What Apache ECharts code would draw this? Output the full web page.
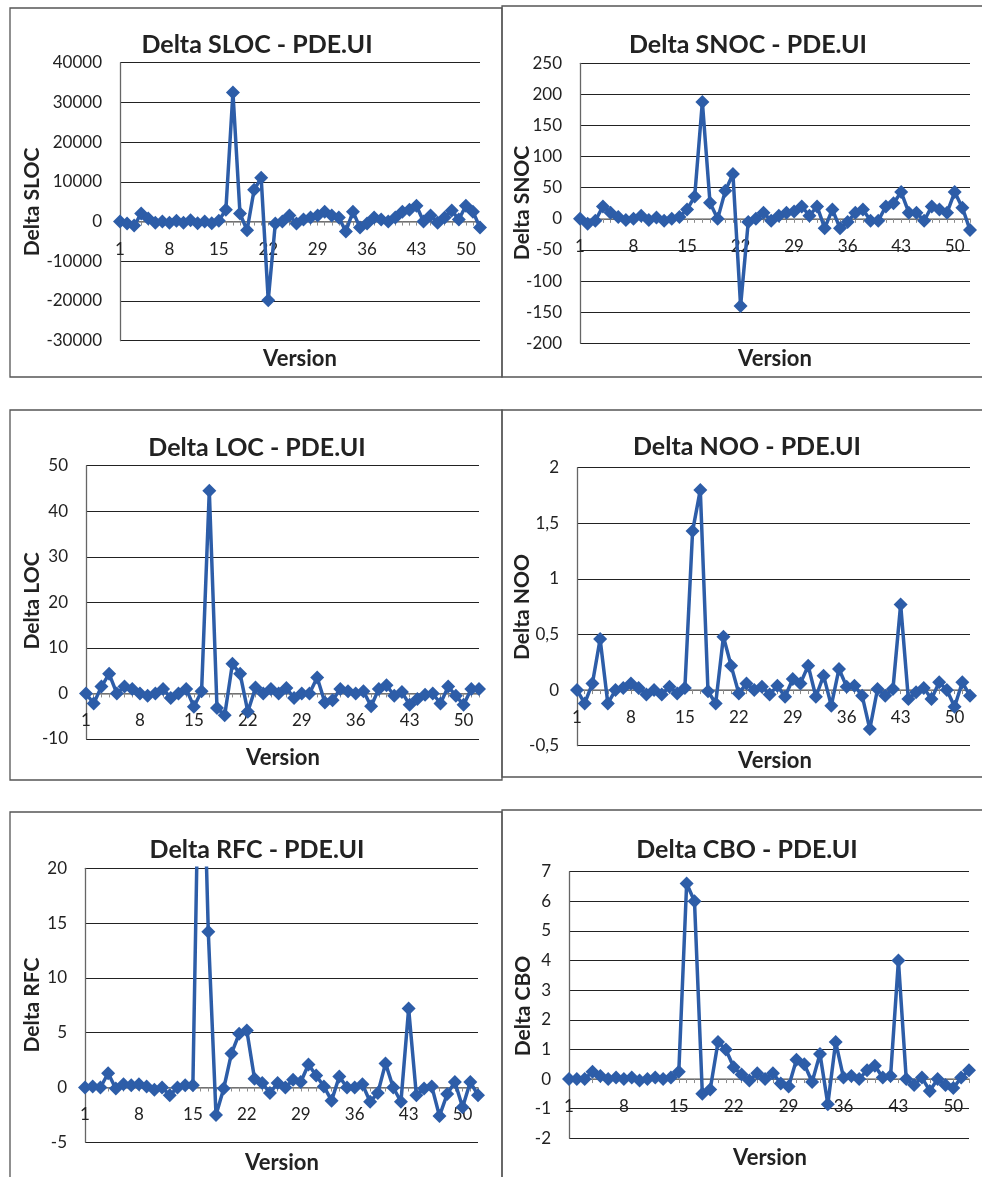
<!DOCTYPE html>
<html>
<head>
<meta charset="utf-8">
<title>Delta metrics - PDE.UI</title>
<script src="https://cdn.jsdelivr.net/npm/echarts@6/dist/echarts.min.js"></script>
<style>
html, body { margin: 0; padding: 0; background: #fff; }
#main { width: 982px; height: 1177px; }
</style>
</head>
<body>
<div id="main"></div>
<script>
// versions on the x axis
const versions = ['1','2','3','4','5','6','7','8','9','10','11','12','13','14','15','16','17','18','19','20',
  '21','22','23','24','25','26','27','28','29','30','31','32','33','34','35','36','37','38','39','40',
  '41','42','43','44','45','46','47','48','49','50','51','52']

// values
const deltaSLOC = [0, -500, -1000, 2000, 800, -300, 0, -300, 200, -300,
  300, -400, 0, -400, 200, 3000, 32500, 2000, -2200, 8000,
  11000, -19800, -500, 0, 1500, -500, 500, 1000, 1500, 2500,
  1500, 1000, -2500, 2500, -1500, -500, 1000, 500, 0, 1000,
  2500, 3000, 4000, 0, 1500, -300, 1000, 2800, 500, 4000,
  2500, -1500]
const deltaSNOC = [0, -8, -3, 20, 10, 3, -2, 0, 5, -2,
  2, -3, 0, 3, 15, 36, 188, 26, 0, 45,
  72, -140, -5, 0, 10, -3, 5, 10, 12, 20,
  5, 20, -15, 15, -15, -5, 10, 15, -3, -3,
  20, 25, 43, 10, 10, -3, 20, 15, 10, 43,
  18, -18]
const deltaLOC = [0, -2.2, 1.5, 4.3, 0, 1.5, 1, 0, -0.5, 0,
  1, -1, 0, 1, -2.9, 0.5, 44.5, -3.2, -4.8, 6.5,
  4.3, -4, 1.3, 0, 1, 0, 1.2, -1, 0, 0,
  3.5, -2, -1.5, 1, 0.5, 0, 0.5, -2.8, 1, 1.8,
  -0.5, 0.3, -2.5, -1.2, -0.3, 0, -2.2, 1.5, -0.5, -2.5,
  1, 1]
const deltaNOO = [0, -0.12, 0.06, 0.46, -0.12, 0, 0.02, 0.06, 0.02, -0.04,
  0, -0.04, 0.03, -0.03, 0.02, 1.43, 1.8, -0.01, -0.12, 0.48,
  0.22, -0.03, 0.06, 0, 0.03, -0.04, 0.04, -0.06, 0.1, 0.06,
  0.22, -0.06, 0.13, -0.14, 0.19, 0.03, 0.04, -0.05, -0.35, 0.01,
  -0.05, 0.01, 0.77, -0.08, -0.02, 0.02, -0.08, 0.07, 0, -0.15,
  0.07, -0.05]
const deltaRFC = [0, 0.1, 0, 1.3, -0.1, 0.3, 0.2, 0.3, 0.1, -0.2,
  0, -0.7, 0, 0.2, 0.2, 40, 14.2, -2.5, -0.1, 3.1,
  4.9, 5.2, 0.8, 0.4, -0.5, 0.4, 0, 0.7, 0.5, 2.1,
  1.1, 0.1, -1.2, 1.0, 0, 0, 0.3, -1.3, -0.5, 2.2,
  0, -1.3, 7.2, -0.7, -0.1, 0.1, -2.6, -0.6, 0.5, -1.8,
  0.5, -0.7]
const deltaCBO = [0, 0, 0, 0.25, 0.1, 0, 0.05, 0, 0.05, -0.05,
  0, 0.05, 0, 0.05, 0.25, 6.6, 6.0, -0.5, -0.35, 1.25,
  1.0, 0.4, 0.15, -0.05, 0.2, 0, 0.2, -0.15, -0.25, 0.65,
  0.5, -0.1, 0.85, -0.85, 1.25, 0.05, 0.1, 0, 0.3, 0.45,
  0.05, 0.1, 4.0, 0, -0.2, 0.05, -0.4, 0, -0.2, -0.3,
  0.05, 0.3]

// y tick values of each chart
const slocTicks = [-30000, -20000, -10000, 0, 10000, 20000, 30000, 40000]
const snocTicks = [-200, -150, -100, -50, 0, 50, 100, 150, 200, 250]
const locTicks = [-10, 0, 10, 20, 30, 40, 50]
const nooTicks = [-0.5, 0, 0.5, 1, 1.5, 2]
const rfcTicks = [-5, 0, 5, 10, 15, 20]
const cboTicks = [-2, -1, 0, 1, 2, 3, 4, 5, 6, 7]

const FONT = 'Lato, "Open Sans", sans-serif'
const BLUE = '#2D5DA8'

const panels = [
  { title: 'Delta SLOC - PDE.UI', yName: 'Delta SLOC', data: deltaSLOC, ticks: slocTicks,
    grid: { left: 120, top: 62.7, width: 360, height: 278 },
    titleAt: [257, 45], yNameAt: [32, 202], xNameAt: [300, 359] },
  { title: 'Delta SNOC - PDE.UI', yName: 'Delta SNOC', data: deltaSNOC, ticks: snocTicks,
    grid: { left: 580, top: 63.3, width: 390, height: 280 },
    titleAt: [748, 45], yNameAt: [522, 203], xNameAt: [775, 359] },
  { title: 'Delta LOC - PDE.UI', yName: 'Delta LOC', data: deltaLOC, ticks: locTicks,
    grid: { left: 86, top: 465.7, width: 393, height: 273.3 },
    titleAt: [257, 448], yNameAt: [32, 601], xNameAt: [283, 758] },
  { title: 'Delta NOO - PDE.UI', yName: 'Delta NOO', data: deltaNOO, ticks: nooTicks, comma: true,
    grid: { left: 577, top: 467.7, width: 393, height: 278 },
    titleAt: [747, 447], yNameAt: [522, 607], xNameAt: [775, 761] },
  { title: 'Delta RFC - PDE.UI', yName: 'Delta RFC', data: deltaRFC, ticks: rfcTicks,
    grid: { left: 85, top: 868.3, width: 393, height: 274 },
    titleAt: [257, 850], yNameAt: [32, 1005], xNameAt: [282, 1163] },
  { title: 'Delta CBO - PDE.UI', yName: 'Delta CBO', data: deltaCBO, ticks: cboTicks,
    grid: { left: 569, top: 871.7, width: 400, height: 266.6 },
    titleAt: [747, 850], yNameAt: [523, 1006], xNameAt: [770, 1158] }
]

const myChart = echarts.init(document.getElementById('main'), null, { renderer: 'canvas' })

const graphic = [
  // panel frames
  { x: 10, y: 8, w: 492, h: 369 }, { x: 502, y: 6, w: 500, h: 371 },
  { x: 10, y: 410, w: 492, h: 370 }, { x: 502, y: 410, w: 500, h: 367 },
  { x: 10, y: 812, w: 492, h: 400 }, { x: 502, y: 810, w: 500, h: 400 }
].map(r => ({
  type: 'rect', silent: true, z: 0,
  shape: { x: r.x, y: r.y, width: r.w, height: r.h },
  style: { fill: null, stroke: '#555', lineWidth: 1.3 }
}))

panels.forEach(p => {
  graphic.push({
    type: 'text', x: p.titleAt[0], y: p.titleAt[1], silent: true,
    style: { text: p.title, font: 'bold 25px ' + FONT, fill: '#222', align: 'center', verticalAlign: 'middle' }
  })
  graphic.push({
    type: 'text', x: p.yNameAt[0], y: p.yNameAt[1], rotation: Math.PI / 2, silent: true,
    style: { text: p.yName, font: 'bold 21px ' + FONT, fill: '#222', align: 'center', verticalAlign: 'middle' }
  })
  graphic.push({
    type: 'text', x: p.xNameAt[0], y: p.xNameAt[1], silent: true,
    style: { text: 'Version', font: 'bold 22px ' + FONT, fill: '#222', align: 'center', verticalAlign: 'middle' }
  })
})

// the category axis sits on the zero line, with its labels just under it
function zeroOffset(p) {
  const min = p.ticks[0]
  const max = p.ticks[p.ticks.length - 1]
  return -p.grid.height * (0 - min) / (max - min)
}

myChart.setOption({
  animation: false,
  backgroundColor: '#fff',
  grid: panels.map(p => Object.assign({ containLabel: false }, p.grid)),
  xAxis: panels.map((p, i) => ({
    type: 'category',
    gridIndex: i,
    position: 'bottom',
    offset: zeroOffset(p),
    data: versions,
    boundaryGap: false,
    axisLine: { onZero: false, lineStyle: { color: '#8c8c8c', width: 1.5 } },
    axisTick: { show: true, interval: 0, length: 4, lineStyle: { color: '#8c8c8c' } },
    axisLabel: { interval: 6, margin: 19, fontSize: 17, color: '#222', fontFamily: FONT },
    splitLine: { show: false }
  })),
  yAxis: panels.map((p, i) => ({
    type: 'value',
    gridIndex: i,
    min: p.ticks[0],
    max: p.ticks[p.ticks.length - 1],
    interval: p.ticks[1] - p.ticks[0],
    axisLine: { show: true, lineStyle: { color: '#666', width: 1.3 } },
    axisTick: { show: false },
    axisLabel: {
      margin: 18, fontSize: 17, color: '#222', fontFamily: FONT,
      formatter: v => p.comma ? String(v).replace('.', ',') : String(v)
    },
    splitLine: { show: true, lineStyle: { color: '#222', width: 1.2 } }
  })),
  series: panels.map((p, i) => ({
    type: 'line',
    name: p.yName,
    xAxisIndex: i,
    yAxisIndex: i,
    data: p.data,
    clip: true,
    showSymbol: true,
    showAllSymbol: true,
    symbol: 'diamond',
    symbolSize: 14,
    lineStyle: { color: BLUE, width: 3.5 },
    itemStyle: { color: BLUE }
  })),
  graphic: graphic
})
</script>
</body>
</html>
